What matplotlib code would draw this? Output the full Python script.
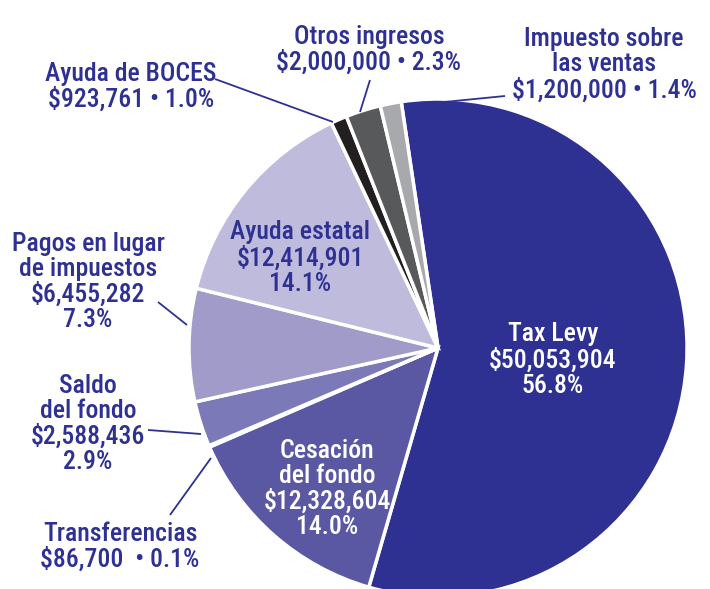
import matplotlib
matplotlib.use("Agg")
import matplotlib.pyplot as plt
from matplotlib import font_manager as fm

categories = ["Tax Levy", "Cesación del fondo", "Transferencias", "Saldo del fondo",
              "Pagos en lugar de impuestos", "Ayuda estatal", "Ayuda de BOCES",
              "Otros ingresos", "Impuesto sobre las ventas"]
amounts = [50053904, 12328604, 86700, 2588436, 6455282, 12414901, 923761, 2000000, 1200000]
percents = ["56.8%", "14.0%", "0.1%", "2.9%", "7.3%", "14.1%", "1.0%", "2.3%", "1.4%"]
colors = ["#2E3192", "#5B58A3", "#2E3192", "#7C79B9", "#A09BC9", "#BEBBDD",
          "#231F20", "#58595B", "#A7A9AC"]
explode = [0.045, 0, 0, 0, 0, 0, 0, 0, 0]

# pick a condensed / narrow font if one is installed (prefer medium weight)
def pick_font():
    prefs = ["Roboto Condensed", "Liberation Sans Narrow", "Open Sans Condensed",
             "Noto Sans Condensed", "DejaVu Sans Condensed"]
    found = {}
    for f in fm.fontManager.ttflist:
        if f.style != "normal":
            continue
        w = f.weight if isinstance(f.weight, int) else {"normal": 400, "regular": 400,
                                                         "medium": 500, "bold": 700}.get(str(f.weight), 400)
        stretch = str(f.stretch)
        narrow = ("Narrow" in f.name or "Condensed" in f.name or
                  stretch in ("condensed", "semi-condensed", "extra-condensed"))
        if narrow and w in (400, 500):
            key = f.name
            if stretch in ("condensed", "semi-condensed") and "Condensed" not in key:
                key = key + " Condensed"
            found.setdefault(key, {})[w] = f.fname
    for p in prefs:
        if p in found:
            d = found[p]
            return d.get(500, d.get(400))
    if found:
        d = found[sorted(found)[0]]
        return d.get(500, d.get(400))
    return None

fpath = pick_font()

W, H = 710, 589
fig = plt.figure(figsize=(W / 100, H / 100), dpi=100)
ax = fig.add_axes([0, 0, 1, 1])

def Y(y):
    return H - y

ax.pie(amounts, colors=colors, explode=explode, startangle=98.5, counterclock=False,
       center=(438, Y(348)), radius=249, frame=True,
       wedgeprops=dict(edgecolor="white", linewidth=2.5))
ax.set_xlim(0, W)
ax.set_ylim(0, H)
ax.set_aspect("equal")
ax.axis("off")

navy = "#2E3192"
if fpath:
    base = dict(fontproperties=fm.FontProperties(fname=fpath, size=18.5))
else:
    base = dict(family=["DejaVu Sans"], fontsize=14.5)

def money(v):
    return "${:,}".format(v)

def label(x, y, text, color=navy):
    ax.text(x, Y(y), text, ha="center", va="center", color=color,
            linespacing=1.05, **base)

label(369, 50, "Otros ingresos\n" + money(amounts[7]) + " • " + percents[7])
label(604, 65, "Impuesto sobre\nlas ventas\n" + money(amounts[8]) + " • " + percents[8])
label(131, 87, "Ayuda de BOCES\n" + money(amounts[6]) + " • " + percents[6])
label(88, 282, "Pagos en lugar\nde impuestos\n" + money(amounts[4]) + "\n" + percents[4])
label(88, 424, "Saldo\ndel fondo\n" + money(amounts[3]) + "\n" + percents[3])
label(120, 547, "Transferencias\n" + money(amounts[2]) + "  • " + percents[2])
label(300, 258, "Ayuda estatal\n" + money(amounts[5]) + "\n" + percents[5])
label(553, 360, "Tax Levy\n" + money(amounts[0]) + "\n" + percents[0], color="white")
label(327, 489, "Cesación\ndel fondo\n" + money(amounts[1]) + "\n" + percents[1], color="white")

lines = [((215, 79), (333, 122)),
         ((370, 80), (360, 112)),
         ((505, 96), (414, 105)),
         ((158, 302), (187, 325)),
         ((148, 430), (201, 434)),
         ((170, 515), (211, 458))]
for (x0, y0), (x1, y1) in lines:
    ax.plot([x0, x1], [Y(y0), Y(y1)], color=navy, lw=1.3, solid_capstyle="butt")

fig.savefig("out.png", dpi=100)
